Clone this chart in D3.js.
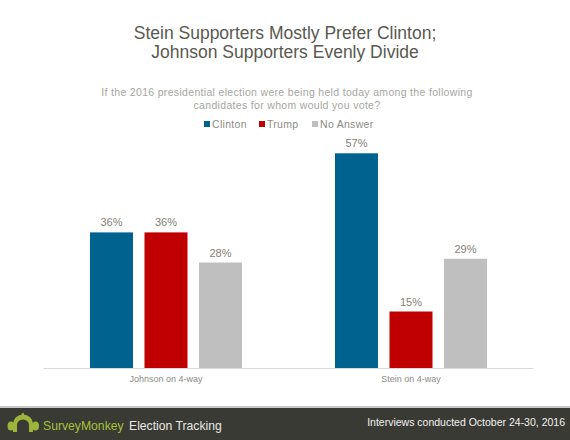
<!DOCTYPE html>
<html>
<head>
<meta charset="utf-8">
<script src="https://cdn.jsdelivr.net/npm/d3@7"></script>
<style>
  html, body { margin: 0; padding: 0; background: #fff; }
  svg { display: block; font-family: "Liberation Sans", Arial, sans-serif; }
</style>
</head>
<body>
<svg id="chart" width="570" height="440"></svg>
<script>
const categories = ["Johnson on 4-way", "Stein on 4-way"];
const seriesNames = ["Clinton", "Trump", "No Answer"];
const clintonValues = [36, 57];
const trumpValues = [36, 15];
const noAnswerValues = [28, 29];
const seriesColors = ["#00628f", "#c00000", "#bfbfbf"];
const titleLines = ["Stein Supporters Mostly Prefer Clinton;", "Johnson Supporters Evenly Divide"];
const subtitleLines = ["If the 2016 presidential election were being held today among the following", "candidates for whom would you vote?"];

const valuesBySeries = [clintonValues, trumpValues, noAnswerValues];
const data = categories.map((c, i) => ({
  category: c,
  values: seriesNames.map((s, j) => ({ series: s, value: valuesBySeries[j][i], color: seriesColors[j] }))
}));

const svg = d3.select("#chart");
const W = 570, H = 440;

// Title
svg.append("g").selectAll("text").data(titleLines).join("text")
  .attr("x", 285).attr("y", (d, i) => 38.5 + i * 19)
  .attr("text-anchor", "middle")
  .attr("font-size", 17.5).attr("fill", "#595950")
  .text(d => d);

// Subtitle
svg.append("g").selectAll("text").data(subtitleLines).join("text")
  .attr("x", 287).attr("y", (d, i) => 96 + i * 13)
  .attr("text-anchor", "middle")
  .attr("font-size", 10.5).attr("fill", "#a6a6a0")
  .attr("letter-spacing", 0.32)
  .text(d => d);

// Legend
const legendX = [204, 259, 312];
const lg = svg.append("g").selectAll("g").data(seriesNames).join("g")
  .attr("transform", (d, i) => `translate(${legendX[i]},128)`);
lg.append("rect").attr("x", 0).attr("y", -7).attr("width", 6).attr("height", 6)
  .attr("fill", (d, i) => seriesColors[i]);
lg.append("text").attr("x", 8).attr("y", 0).attr("font-size", 10.5)
  .attr("letter-spacing", 0.3)
  .attr("fill", "#8c8c84").text(d => d);

// Scales
const x0 = d3.scaleBand().domain(categories).range([43.5, 533.5]).padding(0);
const x1 = d3.scaleBand().domain(seriesNames).range([46.5, 198.5]).paddingInner(0.211).paddingOuter(0);
const y = d3.scaleLinear().domain([0, 60]).range([368, 142]);

// Axis
const xAxis = d3.axisBottom(x0).tickSize(0).tickPadding(8);
const ax = svg.append("g").attr("transform", `translate(0,${y(0)})`).call(xAxis);
ax.select(".domain").attr("stroke", "#d9d9d9").attr("d", `M43.5,0.5H533.5`);
ax.selectAll("text").attr("font-size", 9).attr("fill", "#8c8c88")
  .attr("font-family", "'Liberation Sans', Arial, sans-serif");

// Bars
const groups = svg.append("g").selectAll("g").data(data).join("g")
  .attr("transform", d => `translate(${x0(d.category)},0)`);
groups.selectAll("rect").data(d => d.values).join("rect")
  .attr("x", d => x1(d.series))
  .attr("y", d => y(d.value))
  .attr("width", x1.bandwidth())
  .attr("height", d => y(0) - y(d.value))
  .attr("fill", d => d.color);
groups.selectAll("text").data(d => d.values).join("text")
  .attr("x", d => x1(d.series) + x1.bandwidth() / 2)
  .attr("y", d => y(d.value) - 6)
  .attr("text-anchor", "middle")
  .attr("font-size", 11).attr("fill", "#858075")
  .text(d => d.value + "%");

// Footer
svg.append("rect").attr("x", 0).attr("y", 406).attr("width", W).attr("height", 2).attr("fill", "#c9c9c9");
svg.append("rect").attr("x", 0).attr("y", 408).attr("width", W).attr("height", 32).attr("fill", "#3a3a34");

// Logo
const logo = svg.append("g").attr("fill", "#9cb53a");
logo.append("path").attr("d", "M13,432 L13,424 A10,9.5 0 0 1 33,424 L33,432 L29,432 L29,425 A6,5.5 0 0 0 17,425 L17,432 Z");
logo.append("ellipse").attr("cx", 11).attr("cy", 426).attr("rx", 3.5).attr("ry", 4.5);
logo.append("ellipse").attr("cx", 35.5).attr("cy", 426).attr("rx", 3.5).attr("ry", 4.5);
logo.append("path").attr("d", "M21,415.5 Q22,412 24,413 Q23,414 24.5,415 Z");

svg.append("text").attr("x", 43).attr("y", 429.5).attr("font-size", 12.2)
  .attr("fill", "#a4c13a").text("SurveyMonkey");
svg.append("text").attr("x", 129).attr("y", 429.5).attr("font-size", 12.2)
  .attr("fill", "#e8e8e4").text("Election Tracking");
svg.append("text").attr("x", 565).attr("y", 426).attr("text-anchor", "end")
  .attr("font-size", 10.5).attr("fill", "#f2f2f0")
  .text("Interviews conducted October 24-30, 2016");
</script>
</body>
</html>
